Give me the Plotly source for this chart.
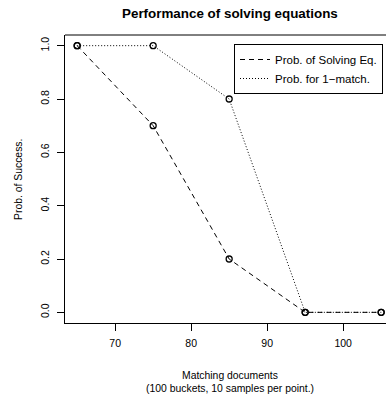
import plotly.graph_objects as go

matching_docs = [65, 75, 85, 95, 105]
prob_solving = [1.0, 0.7, 0.2, 0.0, 0.0]
prob_one_match = [1.0, 1.0, 0.8, 0.0, 0.0]
series_names = ["Prob. of Solving Eq.", "Prob. for 1\u2212match."]
x_ticks = [70, 80, 90, 100]
y_ticks = [0.0, 0.2, 0.4, 0.6, 0.8, 1.0]
y_tick_text = ["0.0", "0.2", "0.4", "0.6", "0.8", "1.0"]

FONT = "Liberation Sans, Arial, Helvetica, sans-serif"
W, H = 386, 400
ML, MR, MT, MB = 65, 0, 35, 77
plot_w = W - ML - MR
plot_h = H - MT - MB

fig = go.Figure()

marker = dict(symbol="circle-open", size=6, color="black", line=dict(width=1.3, color="black"))

fig.add_trace(go.Scatter(x=matching_docs, y=prob_solving, mode="lines+markers",
                         line=dict(color="black", width=1, dash="5px,4px"),
                         marker=marker, showlegend=False, cliponaxis=False))
fig.add_trace(go.Scatter(x=matching_docs, y=prob_one_match, mode="lines+markers",
                         line=dict(color="black", width=1, dash="1px,2px"),
                         marker=marker, showlegend=False, cliponaxis=False))
# legend-only entries (lines only, as in the original)
fig.add_trace(go.Scatter(x=[None], y=[None], mode="lines", name=series_names[0],
                         line=dict(color="black", width=1, dash="5px,4px")))
fig.add_trace(go.Scatter(x=[None], y=[None], mode="lines", name=series_names[1],
                         line=dict(color="black", width=1, dash="1px,2px")))

fig.update_layout(
    width=W, height=H,
    margin=dict(l=ML, r=MR, t=MT, b=MB, pad=0),
    paper_bgcolor="white", plot_bgcolor="white",
    font=dict(family=FONT, size=10.5, color="black"),
    xaxis=dict(range=[63.4, 63.4 + plot_w / 7.6], tickvals=x_ticks,
               showgrid=False, zeroline=False, showline=True, linecolor="black", linewidth=1,
               ticks="outside", ticklen=7, tickcolor="black", tickwidth=1,
               ticklabelstandoff=3,
               tickfont=dict(size=10.5, family=FONT)),
    yaxis=dict(range=[-0.04, 1.04], tickvals=y_ticks, ticktext=y_tick_text,
               showgrid=False, zeroline=False, showline=True, linecolor="black", linewidth=1,
               ticks="outside", ticklen=7, tickcolor="black", tickwidth=1, tickangle=-90,
               ticklabelstandoff=4,
               tickfont=dict(size=10.5, family=FONT)),
    legend=dict(x=(383 - ML) / plot_w, y=1 - (44 - MT) / plot_h, xanchor="right", yanchor="top",
                bordercolor="black", borderwidth=1, bgcolor="white",
                font=dict(size=11.5, family=FONT), tracegroupgap=0, itemwidth=30),
    shapes=[dict(type="line", xref="paper", yref="paper", x0=0, x1=1, y0=1, y1=1,
                 line=dict(color="black", width=1))],
    annotations=[
        dict(text="<b>Performance of solving equations</b>", xref="paper", yref="paper",
             x=(230 - ML) / plot_w, y=1 + (MT - 13) / plot_h, xanchor="center", yanchor="middle",
             showarrow=False, font=dict(size=13.4, family=FONT)),
        dict(text="Matching documents", xref="paper", yref="paper",
             x=(229.5 - ML) / plot_w, y=-(375 - MT - plot_h) / plot_h, xanchor="center", yanchor="middle",
             showarrow=False, font=dict(size=10.4, family=FONT)),
        dict(text="(100 buckets, 10 samples per point.)", xref="paper", yref="paper",
             x=(229.5 - ML) / plot_w, y=-(388 - MT - plot_h) / plot_h, xanchor="center", yanchor="middle",
             showarrow=False, font=dict(size=10.4, family=FONT)),
        dict(text="Prob. of Success.", xref="paper", yref="paper",
             x=-(ML - 18) / plot_w, y=1 - (180 - MT) / plot_h, xanchor="center", yanchor="middle", textangle=-90,
             showarrow=False, font=dict(size=10.4, family=FONT)),
    ],
)

fig.write_html("out.html", config={"displayModeBar": False},
               post_script="document.body.style.margin='0px';")
